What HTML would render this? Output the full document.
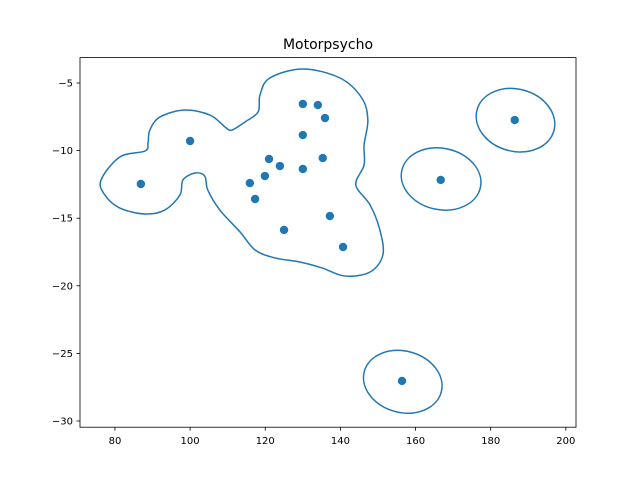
<!DOCTYPE html>
<html><head><meta charset="utf-8"><style>body{margin:0;background:#fff}svg{display:block;font-family:"DejaVu Sans","Liberation Sans",sans-serif}</style></head>
<body>
<svg id="chart" width="640" height="480" viewBox="0 0 640 480">
<rect width="640" height="480" fill="#fff"/>
<text x="328" y="49" text-anchor="middle" font-size="14">Motorpsycho</text>
<g id="plot"></g>
<rect x="80" y="57.6" width="496" height="369.6" fill="none" stroke="#000" stroke-width="0.8"/>
</svg>
<script>
const xs = [86.9,100,115.9,117.3,119.9,121.0,123.9,125.0,130.0,130.0,130.0,134.0,135.9,135.3,137.2,140.7,166.7,186.4,156.4];
const ys = [-12.47,-9.29,-12.4,-13.58,-11.88,-10.62,-11.14,-15.87,-6.55,-8.85,-11.36,-6.63,-7.59,-10.55,-14.84,-17.13,-12.17,-7.74,-27.04];
const xTicks = [80,100,120,140,160,180,200];
const yTicks = [-5,-10,-15,-20,-25,-30];
const blobX = [76.3,81.3,88.0,88.8,89.3,92.0,98.6,105.3,109.3,111.1,114.6,118.1,118.6,121.2,130.0,139.9,145.7,147.3,146.3,146.3,144.1,147.9,150.5,151.3,147.9,141.2,135.1,129.2,122.6,117.3,113.3,107.9,104.7,103.9,101.3,98.1,97.3,93.3,88.0,81.3,77.3];
const blobY = [-12.17,-10.47,-10.03,-9.44,-8.48,-7.51,-7.0,-7.37,-8.25,-8.48,-7.88,-7.14,-5.89,-4.63,-3.96,-4.63,-6.11,-7.74,-9.59,-11.07,-12.54,-14.02,-15.87,-17.72,-18.98,-19.28,-18.68,-18.24,-17.94,-17.35,-16.02,-14.39,-12.91,-11.88,-11.66,-12.17,-13.28,-14.39,-14.69,-14.25,-13.28];
const ellCx = [186.6,166.8,156.6];
const ellCy = [-7.75,-12.1,-27.1];
const ellRx = [10.6,10.7,10.6];
const ellRy = [2.3,2.27,2.27];
const ellRot = [15,12,15];

const NS='http://www.w3.org/2000/svg';
const X0=70.7,X1=202.7,Y0=-30.46,Y1=-3.12,L=80,R=576,T=57.6,B=427.2;
const sx=v=>L+(v-X0)/(X1-X0)*(R-L);
const sy=v=>B-(v-Y0)/(Y1-Y0)*(B-T);
const svg=document.getElementById('chart');
const plot=document.getElementById('plot');
function mk(t,a,p){const e=document.createElementNS(NS,t);for(const k in a)e.setAttribute(k,a[k]);(p||plot).appendChild(e);return e;}
const C='#1f77b4';
// blob contour (smooth closed Catmull-Rom)
const P=blobX.map((x,i)=>[sx(x),sy(blobY[i])]);
let d='M'+P[0][0]+','+P[0][1];
const n=P.length;
for(let i=0;i<n;i++){const p0=P[(i-1+n)%n],p1=P[i],p2=P[(i+1)%n],p3=P[(i+2)%n];
d+=' C'+(p1[0]+(p2[0]-p0[0])/6)+','+(p1[1]+(p2[1]-p0[1])/6)+' '+(p2[0]-(p3[0]-p1[0])/6)+','+(p2[1]-(p3[1]-p1[1])/6)+' '+p2[0]+','+p2[1];}
const blob=mk('path',{d:d+'Z',fill:'none',stroke:C,'stroke-width':1.5});


ellCx.forEach((c,i)=>{
const cx=sx(c),cy=sy(ellCy[i]);
const e=mk('ellipse',{cx:cx,cy:cy,rx:ellRx[i]*(R-L)/(X1-X0),ry:ellRy[i]*(B-T)/(Y1-Y0),fill:'none',stroke:C,'stroke-width':1.5,transform:'rotate('+ellRot[i]+' '+cx+' '+cy+')'});


});
xs.forEach((x,i)=>{
const c=mk('circle',{cx:sx(x),cy:sy(ys[i]),r:4.2,fill:C});


});
xTicks.forEach(v=>{
const x=sx(v);
const l=mk('line',{x1:x,x2:x,y1:B,y2:B+3.5,stroke:'#000','stroke-width':0.8},svg);


const t=mk('text',{x:x,y:B+17,'text-anchor':'middle','font-size':10},svg);
t.textContent=v;


});
yTicks.forEach(v=>{
const y=sy(v);
const l=mk('line',{x1:L-3.5,x2:L,y1:y,y2:y,stroke:'#000','stroke-width':0.8},svg);


const t=mk('text',{x:L-7,y:y+3.5,'text-anchor':'end','font-size':10},svg);
t.textContent='\u2212'+Math.abs(v);


});
</script>
</body></html>
